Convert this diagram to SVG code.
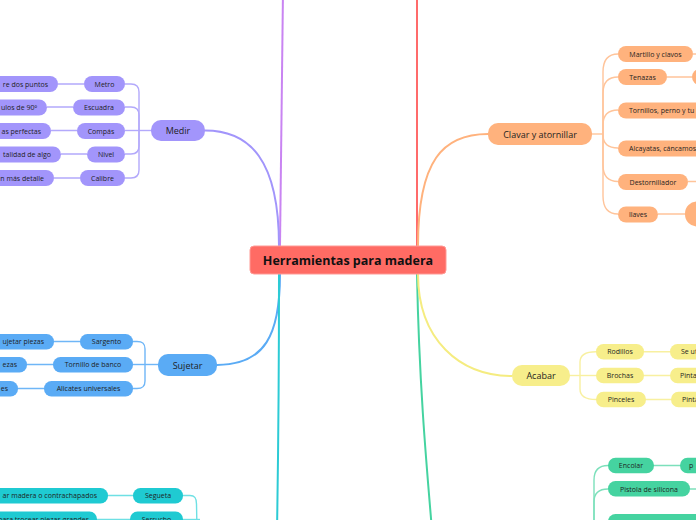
<svg xmlns="http://www.w3.org/2000/svg" width="696" height="520" viewBox="0 0 696 520">
<style>
text{font-family:"Open Sans","Noto Sans","Liberation Sans",sans-serif;fill:#1e1e1e;dominant-baseline:central}
.c{text-anchor:middle}
.e{text-anchor:end}
.s{font-size:7px}
.m{font-size:9px}
.main{fill:none;stroke-width:2}
.sub{fill:none;stroke-width:1.4}
.pu{fill:#a295fb}.or{fill:#ffb27d}.bl{fill:#5aabf5}.ye{fill:#f7ee8b}.cy{fill:#1fcad2}.gr{fill:#45d3a0}
</style>
<rect width="696" height="520" fill="#ffffff"/>
<g id="connectors">
  <path class="main" stroke="#c984f2" d="M280 246 C281 150 282 60 283 -10"/>
  <path class="main" stroke="#ff6b6b" d="M417 246 L417 -10"/>
  <path class="main" stroke="#a295fb" d="M279 246 C279 160 250 130.5 205 130.5"/>
  <path class="main" stroke="#ffb27d" d="M418 246 C418 160 443 134 488 134"/>
  <path class="main" stroke="#5aabf5" d="M280 274 C280 335 265 365 217 365"/>
  <path class="main" stroke="#2ccbd5" d="M279 274 C279 400 278 470 277 530"/>
  <path class="main" stroke="#45d3a0" d="M417 274 C419 380 426 460 432 530"/>
  <path class="main" stroke="#f5ec80" d="M418 274 C418 340 460 376 512 376"/>
  <!-- Medir -->
  <g stroke="#b3a9fb" class="sub">
    <path d="M151 130.5 L139 130.5"/>
    <path d="M139 130.5 L139 92 C139 86 136 84 131 84 L125 84"/>
    <path d="M139 130.5 L139 115 C139 109 136 107 131 107 L125 107"/>
    <path d="M139 130.5 L125 130.5"/>
    <path d="M139 130.5 L139 146 C139 152 136 154 131 154 L125 154"/>
    <path d="M139 130.5 L139 170 C139 176 136 178 131 178 L125 178"/>
    <path d="M58 84 L84 84 M47 107 L73 107 M51 130.5 L77 130.5 M61 154 L87 154 M54 178 L80 178"/>
  </g>
  <!-- Sujetar -->
  <g stroke="#6fb6f7" class="sub">
    <path d="M158 364.5 L145 364.5"/>
    <path d="M145 364.5 L145 349 C145 343 142 341.5 137 341.5 L133 341.5"/>
    <path d="M145 364.5 L133 364.5"/>
    <path d="M145 364.5 L145 381 C145 387 142 388.5 137 388.5 L133 388.5"/>
    <path d="M54 341.5 L80 341.5 M27 364.5 L53 364.5 M18 388.5 L44 388.5"/>
  </g>
  <!-- Cyan bottom-left -->
  <g stroke="#6ee0e4" class="sub">
    <path d="M183 495.5 L190 495.5 C195 495.5 196.5 498 196.5 504 L197 530"/>
    <path d="M183 519.5 L200 519.5"/>
    <path d="M108 495.5 L133 495.5 M97 519.5 L130 519.5"/>
  </g>
  <!-- Clavar -->
  <g stroke="#ffc49a" class="sub">
    <path d="M592 134 L603 134"/>
    <path d="M603 134 L603 72 C603 60 608 54 618 54"/>
    <path d="M603 134 L603 93 C603 82 608 77 618 77"/>
    <path d="M603 134 L603 125 C603 115 608 110 618 110"/>
    <path d="M603 134 L603 135 C603 143 608 148 618 148"/>
    <path d="M603 134 L603 165 C603 176 608 181.5 618 181.5"/>
    <path d="M603 134 L603 196 C603 208 608 214 618 214"/>
    <path d="M693 54 L700 54 M667 77 L692 77 M688 181.5 L700 181.5 M658 214 L685 214"/>
  </g>
  <!-- Acabar -->
  <g stroke="#f8f0a0" class="sub">
    <path d="M570 375.5 L596 375.5"/>
    <path d="M580 375.5 L580 362 C580 355 586 351.7 596 351.7"/>
    <path d="M580 375.5 L580 389 C580 396 586 399.5 596 399.5"/>
    <path d="M644 351.7 L670 351.7 M644 375.5 L670 375.5 M646 399.5 L671 399.5"/>
  </g>
  <!-- Green -->
  <g stroke="#7ce0bb" class="sub">
    <path d="M594 540 L594 480 C594 470 599 465.5 608 465.5"/>
    <path d="M594 540 L594 502 C594 493 599 489 608 489"/>
    <path d="M594 540 C594 527 599 522 608 522"/>
    <path d="M654 465.5 L680 465.5 M690 489 L700 489"/>
  </g>
</g>
<g id="center">
  <rect x="250" y="246" width="196" height="28" rx="4" fill="#ff6b64" stroke="#ff9a95" stroke-width="1"/>
  <text class="c" x="348" y="260.5" style="font-size:12.5px;font-weight:bold;fill:#111">Herramientas para madera</text>
</g>
<g id="medir">
  <rect class="pu" x="151" y="120" width="54" height="21" rx="10"/>
  <text class="c m" x="178" y="130.5">Medir</text>
</g>
<g id="metro"><rect class="pu" x="84" y="76" width="41" height="16" rx="8"/><text class="c s" x="104.5" y="84">Metro</text></g>
<g id="escuadra"><rect class="pu" x="73" y="99.5" width="52" height="16" rx="8"/><text class="c s" x="99" y="107.5">Escuadra</text></g>
<g id="compas"><rect class="pu" x="77" y="123" width="48" height="16" rx="8"/><text class="c s" x="101" y="131">Compás</text></g>
<g id="nivel"><rect class="pu" x="87" y="146.5" width="38" height="16" rx="8"/><text class="c s" x="106" y="154.5">Nivel</text></g>
<g id="calibre"><rect class="pu" x="80" y="170" width="45" height="16" rx="8"/><text class="c s" x="102.5" y="178">Calibre</text></g>
<g id="medir-leaf1"><rect class="pu" x="-20" y="76" width="78" height="16" rx="8"/><text class="e s" x="48" y="84">re dos puntos</text></g>
<g id="medir-leaf2"><rect class="pu" x="-20" y="99.5" width="67" height="16" rx="8"/><text class="e s" x="37" y="107.5">ulos de 90º</text></g>
<g id="medir-leaf3"><rect class="pu" x="-20" y="123" width="71" height="16" rx="8"/><text class="e s" x="41" y="131">as perfectas</text></g>
<g id="medir-leaf4"><rect class="pu" x="-20" y="146.5" width="81" height="16" rx="8"/><text class="e s" x="51" y="154.5">talidad de algo</text></g>
<g id="medir-leaf5"><rect class="pu" x="-20" y="170" width="74" height="16" rx="8"/><text class="e s" x="44" y="178">n más detalle</text></g>

<g id="sujetar"><rect class="bl" x="158" y="354" width="59" height="22" rx="10"/><text class="c m" x="187.5" y="365">Sujetar</text></g>
<g id="sargento"><rect class="bl" x="80" y="334" width="53" height="15.5" rx="7.5"/><text class="c s" x="106.5" y="341.7">Sargento</text></g>
<g id="tornillo-banco"><rect class="bl" x="53" y="357" width="80" height="15.5" rx="7.5"/><text class="c s" x="93" y="364.7">Tornillo de banco</text></g>
<g id="alicates"><rect class="bl" x="44" y="381" width="89" height="15.5" rx="7.5"/><text class="c s" x="88.5" y="388.7">Alicates universales</text></g>
<g id="sujetar-leaf1"><rect class="bl" x="-20" y="334" width="74" height="15.5" rx="7.5"/><text class="e s" x="44" y="341.7">ujetar piezas</text></g>
<g id="sujetar-leaf2"><rect class="bl" x="-20" y="357" width="47" height="15.5" rx="7.5"/><text class="e s" x="17" y="364.7">ezas</text></g>
<g id="sujetar-leaf3"><rect class="bl" x="-20" y="381" width="38" height="15.5" rx="7.5"/><text class="e s" x="8" y="388.7">es</text></g>

<g id="segueta"><rect class="cy" x="133" y="488" width="50" height="15.5" rx="7.5"/><text class="c s" x="158" y="495.7">Segueta</text></g>
<g id="serrucho"><rect class="cy" x="130" y="511.5" width="53" height="15.5" rx="7.5"/><text class="c s" x="156.5" y="519.2">Serrucho</text></g>
<g id="segueta-leaf"><rect class="cy" x="-20" y="488" width="128" height="15.5" rx="7.5"/><text class="e s" x="97" y="495.7">ar madera o contrachapados</text></g>
<g id="serrucho-leaf"><rect class="cy" x="-20" y="511.5" width="117" height="15.5" rx="7.5"/><text class="e s" x="89" y="519.2">para trocear piezas grandes</text></g>

<g id="clavar"><rect class="or" x="488" y="123" width="104" height="22" rx="10"/><text class="c m" x="540" y="134">Clavar y atornillar</text></g>
<g id="martillo"><rect class="or" x="618" y="46" width="75" height="16" rx="8"/><text class="c s" x="655.5" y="54">Martillo y clavos</text></g>
<g id="tenazas"><rect class="or" x="618" y="69" width="49" height="16" rx="8"/><text class="c s" x="642.5" y="77">Tenazas</text></g>
<g id="tornillos"><rect class="or" x="618" y="102.5" width="100" height="16" rx="8"/><text class="s" x="629" y="110.5">Tornillos, perno y tu</text></g>
<g id="alcayatas"><rect class="or" x="618" y="140.5" width="100" height="16" rx="8"/><text class="s" x="629" y="148.5">Alcayatas, cáncamos</text></g>
<g id="destornillador"><rect class="or" x="618" y="174" width="70" height="16" rx="8"/><text class="c s" x="653" y="182">Destornillador</text></g>
<g id="llaves"><rect class="or" x="618" y="206.5" width="40" height="16" rx="8"/><text class="c s" x="638" y="214.5">llaves</text></g>
<g id="tenazas-leaf"><rect class="or" x="692" y="69" width="30" height="16" rx="8"/></g>
<g id="llaves-leaf"><rect class="or" x="685" y="201.5" width="40" height="25" rx="12"/></g>

<g id="acabar"><rect class="ye" x="512" y="365" width="58" height="21" rx="10"/><text class="c m" x="541" y="375.5">Acabar</text></g>
<g id="rodillos"><rect class="ye" x="596" y="344" width="48" height="15.5" rx="7.5"/><text class="c s" x="620" y="351.7">Rodillos</text></g>
<g id="brochas"><rect class="ye" x="596" y="367.7" width="48" height="15.5" rx="7.5"/><text class="c s" x="620" y="375.5">Brochas</text></g>
<g id="pinceles"><rect class="ye" x="596" y="391.7" width="50" height="15.5" rx="7.5"/><text class="c s" x="621" y="399.5">Pinceles</text></g>
<g id="rodillos-leaf"><rect class="ye" x="670" y="344" width="50" height="15.5" rx="7.5"/><text class="s" x="681" y="351.7">Se ut</text></g>
<g id="brochas-leaf"><rect class="ye" x="670" y="367.7" width="50" height="15.5" rx="7.5"/><text class="s" x="680" y="375.5">Pinta</text></g>
<g id="pinceles-leaf"><rect class="ye" x="671" y="391.7" width="50" height="15.5" rx="7.5"/><text class="s" x="682" y="399.5">Pinta</text></g>

<g id="encolar"><rect class="gr" x="608" y="457.7" width="46" height="15.5" rx="7.5"/><text class="c s" x="631" y="465.5">Encolar</text></g>
<g id="pistola"><rect class="gr" x="608" y="481" width="82" height="15.5" rx="7.5"/><text class="c s" x="649" y="489">Pistola de silicona</text></g>
<g id="green-child3"><rect class="gr" x="608" y="514" width="110" height="15.5" rx="7.5"/></g>
<g id="encolar-leaf"><rect class="gr" x="680" y="457.7" width="40" height="15.5" rx="7.5"/><text class="s" x="689" y="465.5">p</text></g>
</svg>
